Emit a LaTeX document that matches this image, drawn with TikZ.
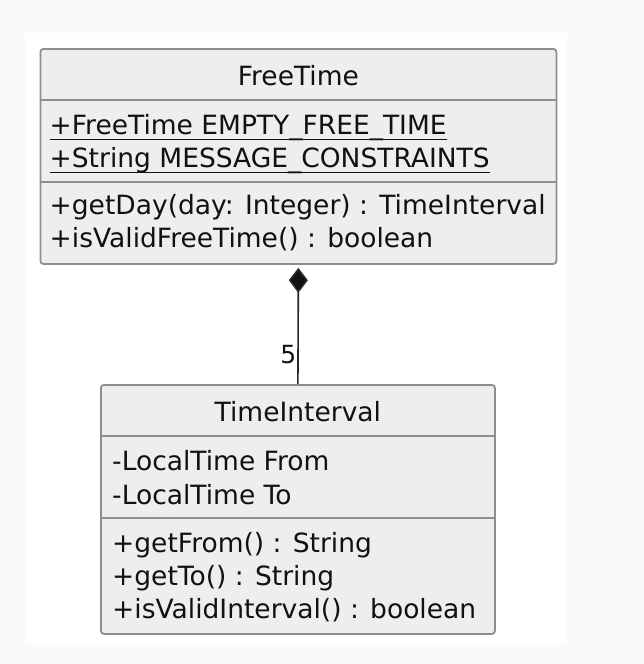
\documentclass[tikz,border=0pt]{standalone}
\usepackage{fontspec}
\setmainfont{DejaVu Sans}
\usepackage{tikz}
\usetikzlibrary{arrows.meta}
\usetikzlibrary{calc}
\usetikzlibrary{positioning}

\definecolor{classfill}{HTML}{EEEEEE}
\definecolor{classline}{HTML}{8E8E8E}
\definecolor{textcol}{HTML}{111111}
\definecolor{pagegray}{HTML}{FAFAFA}

\begin{document}
\begin{tikzpicture}[x=1pt,y=1pt,
    classbox/.style={draw=classline,fill=classfill,line width=1.8pt,rounded corners=3pt,inner sep=0pt,anchor=north west},
    sepline/.style={draw=classline,line width=1.5pt},
    member/.style={inner sep=0pt,anchor=base west,text=textcol,font=\fontsize{26.5}{32}\selectfont},
    title/.style={member,anchor=base},
    uline/.style={draw=textcol,line width=1.5pt},
    composition/.style={draw=textcol!90,line width=1.6pt,shorten >=3pt,-{Diamond[length=25pt,width=19pt,fill=textcol]}}]

  \useasboundingbox (0,0) rectangle (644,-664);
  \fill [pagegray] (0,0) rectangle (644,-664);
  \fill [white] (25,-33) rectangle (567,-644);

  % FreeTime
  \node [classbox,minimum width=516pt,minimum height=215pt] (FT) at (39.5,-48) {};
  \path [sepline]
    ($(FT.north west)+(0,-52)$)  -- ($(FT.north east)+(0,-52)$)
    ($(FT.north west)+(0,-134)$) -- ($(FT.north east)+(0,-134)$);

  \node [title]  (FT_name) at ($(FT.north)+(0,-37)$) {FreeTime};
  \node [member] (FT_a1) at ($(FT.north west)+(10,-86)$)  {+FreeTime EMPTY\_FREE\_TIME};
  \node [member] (FT_a2) at ($(FT.north west)+(10,-119)$) {+String MESSAGE\_CONSTRAINTS};
  \node [member] (FT_m1) at ($(FT.north west)+(10,-166)$) {+getDay(day: Integer) : TimeInterval};
  \node [member] (FT_m2) at ($(FT.north west)+(10,-199)$) {+isValidFreeTime() : boolean};

  \path [uline]
    ([yshift=-5.5pt]FT_a1.base west) -- ([yshift=-5.5pt]FT_a1.base east)
    ([yshift=-5.5pt]FT_a2.base west) -- ([yshift=-5.5pt]FT_a2.base east);

  % TimeInterval
  \node [classbox,minimum width=394pt,minimum height=249pt] (TI) at (100,-384) {};
  \path [sepline]
    ($(TI.north west)+(0,-52)$)  -- ($(TI.north east)+(0,-52)$)
    ($(TI.north west)+(0,-134)$) -- ($(TI.north east)+(0,-134)$);

  \node [title]  (TI_name) at ($(TI.north)+(0,-37)$) {TimeInterval};
  \node [member] (TI_a1) at ($(TI.north west)+(12,-86.5)$) {-LocalTime From};
  \node [member] (TI_a2) at ($(TI.north west)+(12,-120)$)  {-LocalTime To};
  \node [member] (TI_m1) at ($(TI.north west)+(12,-168)$)  {+getFrom() : String};
  \node [member] (TI_m2) at ($(TI.north west)+(12,-201)$)  {+getTo() : String};
  \node [member] (TI_m3) at ($(TI.north west)+(12,-234)$)  {+isValidInterval() : boolean};

  % composition
  \path [composition] (TI.north) -- (FT.south);
  \node [member,anchor=base east,font=\fontsize{25}{30}\selectfont] (TI_mult) at ($(TI.north)+(-1.5,21)$) {5};
\end{tikzpicture}
\end{document}
